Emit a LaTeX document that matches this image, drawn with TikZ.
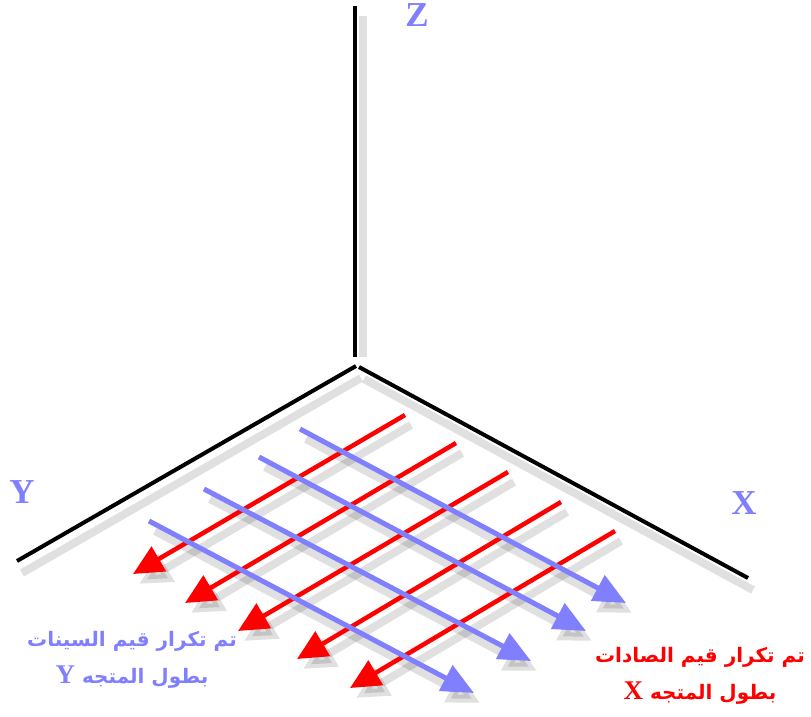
\documentclass[tikz,border=0pt]{standalone}
\usepackage{fontspec}
\usetikzlibrary{arrows.meta}
\TeXXeTstate=1
\newfontfamily\arabicfont[Script=Arabic]{DejaVu Sans}
\newfontfamily\latinserif{Liberation Serif}
\definecolor{axblue}{RGB}{128,128,255}
\definecolor{arred}{RGB}{255,0,0}
\begin{document}
\begin{tikzpicture}[x=1pt,y=-1pt,
  axisline/.style={line width=4pt, black},
  shadowline/.style={line width=8pt, black, opacity=0.12},
  redarrow/.style={line width=4.5pt, arred, -{Triangle[length=30pt,width=28pt]}},
  bluearrow/.style={line width=5pt, axblue, -{Triangle[length=32pt,width=28pt]}},
  shadowarrow/.style={line width=8pt, black, opacity=0.12, -{Triangle[length=32pt,width=30pt]}},
  axlabel/.style={text=axblue, font=\latinserif\bfseries\fontsize{35}{36}\selectfont, inner sep=0pt},
  arlabel/.style={font=\arabicfont\bfseries\fontsize{20}{37}\selectfont, align=center, inner sep=0pt}
]
\useasboundingbox (0,0) rectangle (811,716);
\fill[white] (0,0) rectangle (811,716);

% axes
\coordinate (ztop) at (355,6);
\coordinate (zbot) at (355,357);
\coordinate (yo) at (356,366);
\coordinate (yend) at (17,561);
\coordinate (xo) at (359,367);
\coordinate (xend) at (748,578);

\draw[shadowline] ([shift={(8,10)}]ztop) -- ([shift={(8,0)}]zbot);
\draw[shadowline] ([shift={(5,12)}]yo) -- ([shift={(5,12)}]yend);
\draw[shadowline] ([shift={(5,12)}]xo) -- ([shift={(5,12)}]xend);

\draw[axisline] (ztop) -- (zbot);
\draw[axisline] (yo) -- (yend);
\draw[axisline] (xo) -- (xend);

% red arrows (start at upper right, tip at lower left)
\coordinate (r1s) at (405,415); \coordinate (r1e) at (133,574);
\coordinate (r2s) at (456,443); \coordinate (r2e) at (185,603);
\coordinate (r3s) at (508,472); \coordinate (r3e) at (238,631);
\coordinate (r4s) at (561,502); \coordinate (r4e) at (297,659);
\coordinate (r5s) at (615,531); \coordinate (r5e) at (350,688);

% blue arrows (start at upper left, tip at lower right)
\coordinate (b1s) at (300,429); \coordinate (b1e) at (626,603);
\coordinate (b2s) at (259,457); \coordinate (b2e) at (586,631);
\coordinate (b3s) at (204,489); \coordinate (b3e) at (531,661);
\coordinate (b4s) at (149,521); \coordinate (b4e) at (474,693);

% shadows
\foreach \s/\e in {r1s/r1e,r2s/r2e,r3s/r3e,r4s/r4e,r5s/r5e,b1s/b1e,b2s/b2e,b3s/b3e,b4s/b4e}{
  \draw[shadowarrow] ([shift={(6,10)}]\s) -- ([shift={(6,10)}]\e);
}

\foreach \s/\e in {r1s/r1e,r2s/r2e,r3s/r3e,r4s/r4e,r5s/r5e}{
  \draw[redarrow] (\s) -- (\e);
}
\foreach \s/\e in {b1s/b1e,b2s/b2e,b3s/b3e,b4s/b4e}{
  \draw[bluearrow] (\s) -- (\e);
}

% axis labels
\node[axlabel] (zlab) at (417,15) {Z};
\node[axlabel] (ylab) at (22,492) {Y};
\node[axlabel] (xlab) at (744,503) {X};

% Arabic captions
\node[arlabel, text=axblue] (ycap) at (132,660)
  {\beginR تم تكرار قيم السينات\endR\\
   \beginR بطول المتجه {\latinserif\bfseries\fontsize{27}{28}\selectfont Y}\endR};
\node[arlabel, text=arred] (xcap) at (700,676)
  {\beginR تم تكرار قيم الصادات\endR\\
   \beginR بطول المتجه {\latinserif\bfseries\fontsize{27}{28}\selectfont X}\endR};
\end{tikzpicture}
\end{document}
